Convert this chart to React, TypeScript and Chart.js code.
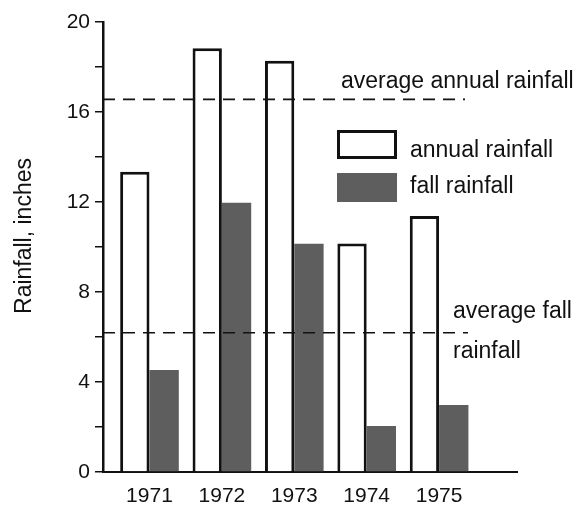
import React, { useEffect, useRef } from "react";
import { Chart, registerables } from "chart.js";

Chart.register(...registerables);

const years = ["1971", "1972", "1973", "1974", "1975"];
const annualRainfall = [13.35, 18.83, 18.28, 10.16, 11.38];
const fallRainfall = [4.53, 11.97, 10.15, 2.04, 2.98];
const averageAnnualRainfall = 16.56;
const averageFallRainfall = 6.19;
const yLabelStep = 4;
const yTitle = "Rainfall, inches";
const seriesNames = ["annual rainfall", "fall rainfall"];
const averageAnnualLabel = ["average annual rainfall"];
const averageFallLabel = ["average fall", "rainfall"];

const FONT = '"Liberation Sans", Arial, Helvetica, sans-serif';
const FALL_GRAY = "#5e5e5e";

const overlayPlugin = {
  id: "overlay",
  afterDatasetsDraw(chart: any) {
    const { ctx, scales } = chart;
    const y = scales.y;
    const left = chart.chartArea.left;
    ctx.save();
    ctx.strokeStyle = "#111";
    ctx.lineWidth = 1.6;
    ctx.setLineDash([12, 8]);
    const ya = y.getPixelForValue(averageAnnualRainfall);
    ctx.beginPath();
    ctx.moveTo(left, ya);
    ctx.lineTo(465, ya);
    ctx.stroke();
    const yf = y.getPixelForValue(averageFallRainfall);
    ctx.beginPath();
    ctx.moveTo(left, yf);
    ctx.lineTo(468, yf);
    ctx.stroke();
    ctx.setLineDash([]);

    ctx.fillStyle = "#111";
    ctx.font = `23px ${FONT}`;
    ctx.textAlign = "left";
    ctx.textBaseline = "alphabetic";
    ctx.fillText(averageAnnualLabel[0], 341, ya - 11);
    ctx.fillText(averageFallLabel[0], 453, yf - 15);
    ctx.fillText(averageFallLabel[1], 453, yf + 25);

    // legend
    const ds = chart.data.datasets;
    ctx.fillStyle = ds[0].backgroundColor;
    ctx.fillRect(337, 130, 60, 29);
    ctx.strokeStyle = ds[0].borderColor;
    ctx.lineWidth = 3;
    ctx.strokeRect(338.5, 131.5, 57, 26);
    ctx.fillStyle = ds[1].backgroundColor;
    ctx.fillRect(337, 173, 60, 29);
    ctx.fillStyle = "#111";
    ctx.fillText(ds[0].label, 410, 157);
    ctx.fillText(ds[1].label, 410, 193);

    // y title
    ctx.save();
    ctx.translate(31, 236);
    ctx.rotate(-Math.PI / 2);
    ctx.textAlign = "center";
    ctx.textBaseline = "alphabetic";
    ctx.fillText(yTitle, 0, 0);
    ctx.restore();
    ctx.restore();
  },
};

export default function App() {
  const ref = useRef<HTMLCanvasElement | null>(null);
  useEffect(() => {
    if (!ref.current) return;
    const chart = new Chart(ref.current, {
      type: "bar",
      data: {
        datasets: [
          {
            label: seriesNames[0],
            data: annualRainfall.map((v, i) => ({ x: i + 1, y: v })),
            backgroundColor: "#ffffff",
            borderColor: "#111111",
            borderWidth: 3,
          },
          {
            label: seriesNames[1],
            data: fallRainfall.map((v, i) => ({ x: i + 1, y: v })),
            backgroundColor: FALL_GRAY,
            borderColor: FALL_GRAY,
            borderWidth: 0,
          },
        ],
      },
      options: {
        animation: false,
        responsive: false,
        devicePixelRatio: 1,
        categoryPercentage: 0.81,
        barPercentage: 1,
        layout: { padding: { top: 22, right: 62, left: 0, bottom: 0 } },
        plugins: {
          legend: { display: false },
          tooltip: { enabled: false },
        },
        scales: {
          x: {
            type: "linear",
            offset: false,
            min: 0.358,
            max: 6.076,
            afterFit: (s: any) => {
              s.height = 34;
            },
            afterBuildTicks: (s: any) => {
              s.ticks = years.map((_, i) => ({ value: i + 1 }));
            },
            grid: { display: false, drawTicks: false, offset: false },
            border: { display: true, color: "#111", width: 2 },
            ticks: {
              padding: 12,
              color: "#111",
              font: { family: FONT, size: 21 },
              callback: (v: any) => years[Math.round(v) - 1] ?? "",
              maxRotation: 0,
              autoSkip: false,
            },
          },
          y: {
            min: 0,
            max: 20,
            afterFit: (s: any) => {
              s.width = 103;
            },
            grid: {
              display: true,
              drawOnChartArea: false,
              drawTicks: true,
              tickLength: 8,
              color: "#111",
              lineWidth: 1.5,
            },
            border: { display: true, color: "#111", width: 2.5 },
            ticks: {
              stepSize: 2,
              padding: 5,
              color: "#111",
              font: { family: FONT, size: 21 },
              callback: (v: any) => (v % yLabelStep === 0 ? String(v) : ""),
            },
          },
        },
      },
      plugins: [overlayPlugin],
    } as any);
    return () => chart.destroy();
  }, []);
  return (
    <div style={{ position: "fixed", left: 0, top: 0, width: 579, height: 506, background: "#fff" }}>
      <canvas ref={ref} width={579} height={506} style={{ width: 579, height: 506, display: "block" }} />
    </div>
  );
}
